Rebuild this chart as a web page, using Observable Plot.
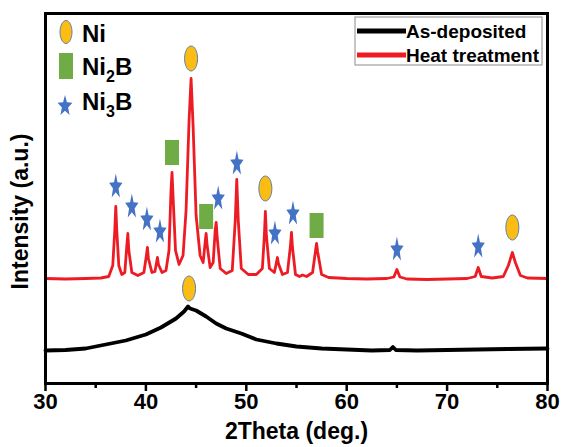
<!DOCTYPE html>
<html>
<head>
<meta charset="utf-8">
<script src="https://cdn.jsdelivr.net/npm/d3@7"></script>
<script src="https://cdn.jsdelivr.net/npm/@observablehq/plot@0.6"></script>
<style>
  body { margin: 0; background: #fff; }
</style>
</head>
<body>
<div id="chart"></div>
<script>
// ---- Data (2θ in degrees, intensity in arbitrary units) ----
const heatTheta = [30, 32, 34, 35.5, 36.3, 36.7, 36.9, 37.0, 37.1, 37.3, 37.6, 37.9, 38.1, 38.2, 38.3, 38.6,
  39.2, 39.8, 40.05, 40.15, 40.25, 40.6, 40.9, 41.1, 41.15, 41.25, 41.6, 42.0, 42.3, 42.5, 42.6, 42.7, 42.95,
  43.3, 43.7, 44.0, 44.3, 44.5, 44.7, 45.0, 45.4, 45.7, 45.9, 46.0, 46.1, 46.4, 46.7, 46.9, 47.0, 47.1, 47.4,
  48.0, 48.6, 48.9, 49.05, 49.2, 49.5, 50.2, 51.0, 51.6, 51.8, 51.9, 52.0, 52.3, 52.8, 53.0, 53.1, 53.2, 53.6,
  54.1, 54.4, 54.5, 54.6, 54.9, 55.3, 55.6, 56.0, 56.6, 56.9, 57.0, 57.1, 57.5, 58.2, 60, 62, 64, 64.7, 65.0,
  65.3, 66, 68, 70, 72, 72.8, 73.1, 73.4, 74.5, 75.6, 76.1, 76.5, 76.8, 77.3, 78, 80];
const heatIntensity = [1050, 1045, 1050, 1055, 1070, 1180, 1530, 1770, 1530, 1180, 1090, 1110, 1380, 1500, 1330, 1110,
  1080, 1110, 1280, 1360, 1250, 1110, 1120, 1230, 1260, 1190, 1110, 1130, 1330, 1930, 2110, 1880, 1330,
  1190, 1280, 1730, 2630, 3050, 2580, 1680, 1280, 1210, 1410, 1500, 1380, 1160, 1210, 1530, 1610, 1460, 1150,
  1100, 1130, 1630, 2040, 1630, 1150, 1090, 1090, 1150, 1480, 1720, 1480, 1150, 1110, 1210, 1260, 1200, 1090,
  1110, 1380, 1510, 1360, 1090, 1070, 1085, 1070, 1110, 1330, 1400, 1320, 1090, 1060, 1050, 1045, 1050, 1065, 1140,
  1065, 1045, 1040, 1045, 1050, 1070, 1160, 1070, 1055, 1070, 1180, 1310, 1210, 1080, 1055, 1050];

const depTheta = [30, 32, 34, 36, 38, 40, 41.5, 43, 43.8, 44.2, 44.4, 45, 46, 47, 48, 49.5, 51, 53, 55, 57.5,
  60, 62.5, 64.3, 64.6, 64.9, 67, 70, 73, 76, 80];
const depIntensity = [330, 335, 350, 390, 430, 490, 560, 650, 720, 770, 750, 730, 670, 600, 550, 500, 440, 400, 370, 350,
  340, 330, 335, 365, 335, 330, 335, 340, 345, 350];

// Phase markers
const niTheta = [44.5, 51.9, 76.5, 44.3];
const niIntensity = [3250, 1950, 1560, 950];
const ni2bTheta = [42.6, 46.0, 57.0];
const ni2bIntensity = [2310, 1670, 1580];
const ni3bTheta = [37.0, 38.6, 40.1, 41.4, 47.2, 49.06, 52.85, 54.65, 65.0, 73.1];
const ni3bIntensity = [1980, 1780, 1650, 1530, 1860, 2210, 1510, 1710, 1350, 1380];

// Ticks and labels
const xMajorTicks = [30, 40, 50, 60, 70, 80];
const xMinorTicks = [35, 45, 55, 65, 75];
const xTitle = "2Theta (deg.)";
const yTitle = "Intensity (a.u.)";
const phaseLabels = ["Ni", "Ni_2B", "Ni_3B"];
const seriesLabels = ["As-deposited", "Heat treatment"];

// ---- Styles ----
const FONT = "'Liberation Sans', Arial, Helvetica, sans-serif";
const RED = "#ED1C24";
const NI_FILL = "#FBBC13", NI_STROKE = "#5E81AD";
const NI2B_FILL = "#6FAC46";
const NI3B_FILL = "#4472C4";

// ---- Custom symbols ----
function ellipseSym(rx, ry) {
  return { draw(ctx) {
    const k = 0.5523;
    ctx.moveTo(rx, 0);
    ctx.bezierCurveTo(rx, ry * k, rx * k, ry, 0, ry);
    ctx.bezierCurveTo(-rx * k, ry, -rx, ry * k, -rx, 0);
    ctx.bezierCurveTo(-rx, -ry * k, -rx * k, -ry, 0, -ry);
    ctx.bezierCurveTo(rx * k, -ry, rx, -ry * k, rx, 0);
    ctx.closePath();
  }};
}
function rectSym(w, h) {
  return { draw(ctx) { ctx.rect(-w / 2, -h / 2, w, h); } };
}
function starSym(R, sy) {
  return { draw(ctx) {
    const r = R * 0.42;
    const off = (R - R * Math.cos(Math.PI / 5)) / 2 * sy;
    for (let i = 0; i < 10; i++) {
      const a = -Math.PI / 2 + i * Math.PI / 5;
      const rr = i % 2 === 0 ? R : r;
      const x = Math.cos(a) * rr, y = Math.sin(a) * rr * sy + off;
      if (i === 0) ctx.moveTo(x, y); else ctx.lineTo(x, y);
    }
    ctx.closePath();
  }};
}

const zip = (xs, ys) => xs.map((x, i) => ({x, y: ys[i]}));
const heat = zip(heatTheta, heatIntensity);
const dep = zip(depTheta, depIntensity);
const ni = zip(niTheta, niIntensity);
const ni2b = zip(ni2bTheta, ni2bIntensity);
const ni3b = zip(ni3bTheta, ni3bIntensity);

const chart = Plot.plot({
  width: 561,
  height: 447,
  marginLeft: 45,
  marginRight: 14,
  marginTop: 13,
  marginBottom: 64,
  style: { fontFamily: FONT, background: "#fff", color: "#000" },
  x: { domain: [30, 80], label: null },
  y: { domain: [0, 3700], axis: null },
  marks: [
    Plot.line(dep, { x: "x", y: "y", stroke: "#000", strokeWidth: 3.8 }),
    Plot.line(heat, { x: "x", y: "y", stroke: RED, strokeWidth: 2.8 }),
    Plot.dot(ni, { x: "x", y: "y", symbol: ellipseSym(6.5, 12.5), fill: NI_FILL, stroke: NI_STROKE, strokeWidth: 1 }),
    Plot.dot(ni2b, { x: "x", y: "y", symbol: rectSym(14, 25), fill: NI2B_FILL, stroke: "none" }),
    Plot.dot(ni3b, { x: "x", y: "y", symbol: starSym(7, 1.9), fill: NI3B_FILL, stroke: "none" }),
    Plot.frame({ stroke: "#000", strokeWidth: 3 }),
    Plot.axisX({ ticks: xMajorTicks, tickSize: 8, tickPadding: 2, strokeWidth: 2.5, fontSize: 22, fontWeight: "bold", label: null }),
    Plot.axisX({ ticks: xMinorTicks, tickSize: 5, strokeWidth: 2.5, tickFormat: () => "", label: null }),
    Plot.text([xTitle], { frameAnchor: "bottom", lineAnchor: "middle", textAnchor: "middle", dy: 48, fontSize: 23, fontWeight: "bold" }),
    Plot.text([yTitle], { frameAnchor: "left", rotate: -90, lineAnchor: "middle", textAnchor: "middle", dx: -25, dy: 13, fontSize: 23, fontWeight: "bold" })
  ]
});

document.getElementById("chart").appendChild(chart);

// ---- Legends ----
const svg = d3.select(chart);

// Phase legend (top-left)
const phaseSyms = [
  { sym: ellipseSym(6, 11.5), fill: NI_FILL, stroke: NI_STROKE, cx: 66, cy: 32 },
  { sym: rectSym(14, 26), fill: NI2B_FILL, stroke: "none", cx: 66, cy: 66 },
  { sym: starSym(7.8, 1.4), fill: NI3B_FILL, stroke: "none", cx: 65, cy: 105 }
];
const phaseBaselines = [42, 75, 110];
const gl = svg.append("g").attr("font-family", FONT).attr("font-weight", "bold").attr("text-anchor", "start");
phaseLabels.forEach((lab, i) => {
  const s = phaseSyms[i];
  gl.append("path")
    .attr("d", d3.symbol().type(s.sym)())
    .attr("transform", `translate(${s.cx},${s.cy})`)
    .attr("fill", s.fill)
    .attr("stroke", s.stroke)
    .attr("stroke-width", 1);
  const t = gl.append("text").attr("x", 82).attr("y", phaseBaselines[i]).attr("font-size", 24).attr("fill", "#000");
  const parts = lab.split(/_(\d)/);
  parts.forEach((p, j) => {
    if (!p) return;
    if (j % 2 === 1) {
      t.append("tspan").attr("font-size", 16).attr("dy", 7).text(p);
    } else {
      const ts = t.append("tspan").text(p);
      if (j > 0) ts.attr("dy", -7);
    }
  });
});

// Series legend (top-right box)
const gr = svg.append("g").attr("font-family", FONT).attr("font-weight", "bold").attr("text-anchor", "start");
gr.append("rect").attr("x", 355).attr("y", 17).attr("width", 187).attr("height", 48)
  .attr("fill", "#fff").attr("stroke", "#8c8c8c").attr("stroke-width", 1);
const seriesColors = ["#000", RED];
const seriesY = [31, 55];
seriesLabels.forEach((lab, i) => {
  gr.append("line").attr("x1", 357).attr("x2", 406).attr("y1", seriesY[i]).attr("y2", seriesY[i])
    .attr("stroke", seriesColors[i]).attr("stroke-width", 5);
  gr.append("text").attr("x", 406).attr("y", seriesY[i] + 7).attr("font-size", 19).attr("fill", "#000").text(lab);
});
</script>
</body>
</html>
